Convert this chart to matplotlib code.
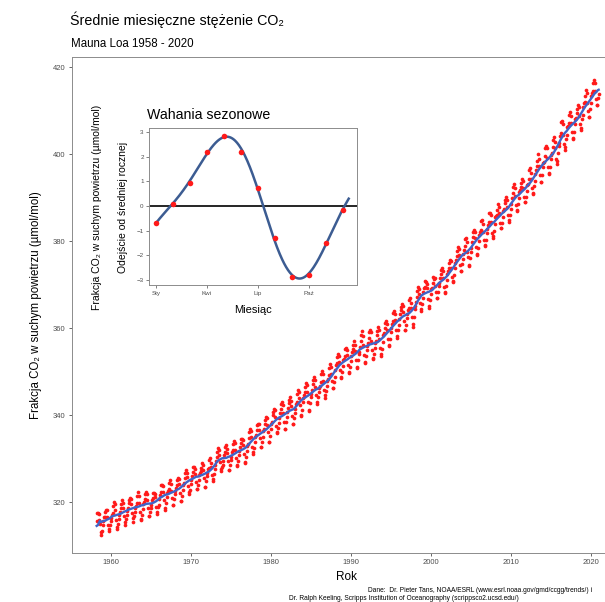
import numpy as np
import pandas as pd
import matplotlib
matplotlib.use("Agg")
import matplotlib.pyplot as plt

plt.rcParams['font.family'] = ['Liberation Sans', 'DejaVu Sans']

# ---------------- data ----------------
start_year = 1958
start_month = 3
# Monthly mean CO2 at Mauna Loa (ppm), Mar 1958 - Dec 2020
co2_ppm = [
    315.70, 317.45, 317.51, 317.24, 315.86, 314.93, 313.20, 312.43, 313.33, 314.67,
    315.58, 316.48, 316.65, 317.72, 318.29, 318.15, 316.54, 314.80, 313.84, 313.33, 314.81, 315.58,
    316.43, 316.98, 317.58, 319.03, 320.04, 319.59, 318.18, 315.90, 314.17, 313.83, 315.00, 316.19,
    316.93, 317.70, 318.54, 319.48, 320.58, 319.77, 318.57, 316.79, 314.80, 315.38, 316.10, 317.01,
    317.94, 318.55, 319.68, 320.57, 321.02, 320.62, 319.61, 317.40, 316.25, 315.42, 316.69, 317.70,
    318.74, 319.07, 319.86, 321.38, 322.25, 321.48, 319.74, 317.77, 316.21, 315.99, 317.07, 318.35,
    319.57, 320.01, 320.74, 321.84, 322.26, 321.89, 320.44, 318.69, 316.70, 316.87, 317.68, 318.71,
    319.44, 320.44, 320.89, 322.14, 322.17, 321.87, 321.21, 318.87, 317.81, 317.30, 318.87, 319.42,
    320.62, 321.59, 322.39, 323.87, 324.01, 323.75, 322.39, 320.37, 318.64, 318.10, 319.79, 321.08,
    322.07, 322.50, 323.04, 324.42, 325.00, 324.09, 322.54, 320.92, 319.25, 319.39, 320.73, 321.96,
    322.57, 323.15, 323.89, 325.02, 325.57, 325.36, 324.14, 322.11, 320.33, 320.25, 321.32, 322.89,
    324.00, 324.42, 325.63, 326.66, 327.38, 326.71, 325.88, 323.66, 322.38, 321.78, 322.85, 324.12,
    325.06, 325.98, 326.93, 328.13, 328.07, 327.66, 326.35, 324.69, 323.10, 323.07, 324.01, 325.13,
    326.17, 326.68, 327.17, 327.79, 328.93, 328.57, 327.36, 325.43, 323.36, 323.56, 324.80, 326.01,
    326.77, 327.63, 327.75, 329.72, 330.07, 329.09, 328.04, 326.32, 324.84, 325.20, 326.50, 327.55,
    328.55, 329.56, 330.30, 331.50, 332.48, 332.07, 330.87, 329.31, 327.51, 327.18, 328.16, 328.64,
    329.35, 330.71, 331.48, 332.65, 333.09, 332.25, 331.18, 329.40, 327.43, 327.37, 328.46, 329.57,
    330.40, 331.40, 332.04, 333.31, 333.96, 333.59, 331.91, 330.06, 328.56, 328.34, 329.49, 330.76,
    331.75, 332.56, 333.50, 334.58, 334.57, 334.34, 333.05, 330.94, 329.30, 328.94, 330.31, 331.68,
    332.93, 333.42, 334.70, 336.07, 336.75, 336.27, 334.92, 332.75, 331.59, 331.16, 332.40, 333.85,
    334.97, 335.38, 336.64, 337.76, 338.01, 337.89, 336.54, 334.68, 332.76, 332.55, 333.92, 334.95,
    336.23, 336.76, 337.96, 338.88, 339.47, 339.29, 337.73, 336.09, 333.92, 333.86, 335.29, 336.73,
    338.01, 338.36, 340.08, 340.77, 341.46, 341.17, 339.56, 337.60, 335.88, 336.02, 337.10, 338.21,
    339.24, 340.48, 341.38, 342.51, 342.91, 342.25, 340.49, 338.43, 336.69, 336.85, 338.36, 339.61,
    340.75, 341.61, 342.70, 343.56, 344.13, 343.35, 342.06, 339.82, 337.97, 337.86, 339.26, 340.49,
    341.38, 342.52, 343.10, 344.94, 345.75, 345.32, 343.99, 342.39, 339.86, 339.99, 341.16, 342.99,
    343.82, 344.63, 345.38, 346.40, 347.42, 346.89, 345.22, 343.11, 340.90, 341.18, 342.80, 344.04,
    344.79, 345.82, 347.25, 348.17, 348.75, 348.07, 346.38, 344.52, 342.92, 342.63, 344.06, 345.38,
    346.11, 346.78, 347.68, 349.37, 350.03, 349.37, 347.76, 345.73, 344.68, 343.99, 345.48, 346.72,
    347.84, 348.29, 349.23, 350.80, 351.66, 351.07, 349.33, 347.92, 346.27, 346.18, 347.64, 348.78,
    350.25, 351.54, 352.05, 353.41, 354.04, 353.62, 352.22, 350.27, 348.55, 348.72, 349.91, 351.18,
    352.60, 352.92, 353.53, 355.26, 355.52, 354.97, 353.75, 351.52, 349.64, 349.83, 351.14, 352.37,
    353.50, 354.55, 355.23, 356.04, 357.00, 356.07, 354.67, 352.76, 350.82, 351.04, 352.69, 354.07,
    354.59, 355.63, 357.03, 358.48, 359.22, 358.12, 356.06, 353.92, 352.05, 352.11, 353.64, 354.89,
    355.88, 356.63, 357.72, 359.07, 359.58, 359.17, 356.94, 354.92, 352.94, 353.23, 354.09, 355.33,
    356.63, 357.10, 358.32, 359.41, 360.23, 359.55, 357.53, 355.48, 353.67, 353.95, 355.30, 356.78,
    358.34, 358.89, 359.95, 361.25, 361.67, 360.94, 359.55, 357.49, 355.84, 356.00, 357.59, 359.05,
    359.98, 361.03, 361.66, 363.48, 363.82, 363.30, 361.94, 359.50, 358.11, 357.80, 359.61, 360.74,
    362.09, 363.29, 364.06, 364.76, 365.45, 365.01, 363.70, 361.54, 359.51, 359.65, 360.80, 362.38,
    363.23, 364.06, 364.61, 366.40, 366.84, 365.68, 364.52, 362.57, 360.24, 360.83, 362.49, 364.34,
    365.16, 365.98, 367.13, 368.61, 369.46, 368.95, 367.74, 365.79, 364.01, 364.35, 365.52, 366.93,
    368.21, 369.13, 369.46, 370.77, 370.66, 370.10, 369.10, 366.70, 364.61, 365.17, 366.51, 367.85,
    369.07, 369.32, 370.38, 371.63, 371.32, 371.53, 369.75, 368.23, 366.87, 366.94, 368.27, 369.64,
    370.46, 371.44, 372.37, 373.33, 373.77, 373.09, 371.51, 369.55, 368.12, 368.38, 369.66, 371.11,
    372.36, 373.09, 373.81, 374.93, 375.58, 375.44, 373.86, 371.77, 370.73, 370.50, 372.18, 373.70,
    374.92, 375.62, 376.51, 377.75, 378.54, 378.20, 376.68, 374.43, 373.11, 373.10, 374.77, 375.97,
    377.03, 377.87, 378.88, 380.42, 380.62, 379.70, 377.43, 376.32, 374.19, 374.47, 376.15, 377.51,
    378.43, 379.70, 380.92, 382.18, 382.45, 382.14, 380.60, 378.60, 376.72, 376.98, 378.29, 380.07,
    381.36, 382.19, 382.65, 384.65, 384.94, 384.01, 382.15, 380.33, 378.81, 379.06, 380.17, 381.85,
    382.88, 383.77, 384.42, 386.36, 386.53, 386.01, 384.45, 381.96, 380.81, 381.09, 382.37, 383.84,
    385.42, 385.72, 385.96, 387.18, 388.50, 387.88, 386.38, 384.15, 383.07, 382.98, 384.11, 385.54,
    386.92, 387.41, 388.77, 389.46, 390.18, 389.43, 387.74, 385.91, 384.77, 384.38, 385.99, 387.26,
    388.45, 389.82, 391.08, 392.46, 393.06, 392.08, 390.32, 388.26, 386.85, 387.17, 388.43, 389.99,
    391.18, 391.83, 392.49, 393.37, 394.28, 393.72, 392.28, 390.08, 389.02, 388.96, 390.22, 391.51,
    392.92, 393.20, 394.19, 396.29, 396.87, 395.60, 394.34, 392.10, 390.77, 391.06, 392.56, 393.88,
    395.47, 396.44, 397.28, 398.31, 400.00, 398.78, 397.31, 395.22, 393.50, 393.66, 395.16, 396.93,
    397.95, 398.26, 399.62, 401.45, 401.88, 401.31, 399.10, 397.04, 395.42, 395.72, 397.08, 398.77,
    399.85, 400.26, 401.56, 403.30, 403.81, 402.84, 401.34, 398.93, 397.63, 398.29, 400.16, 401.85,
    402.51, 404.04, 404.83, 407.42, 407.70, 406.81, 404.39, 402.25, 401.03, 401.57, 403.53, 404.42,
    406.13, 406.42, 407.18, 409.00, 409.65, 408.84, 407.07, 405.07, 403.38, 403.64, 405.14, 406.81,
    407.96, 408.32, 409.41, 410.24, 411.24, 410.79, 408.71, 406.99, 405.51, 406.00, 408.02, 409.07,
    410.83, 411.75, 411.97, 413.32, 414.66, 413.92, 411.77, 409.95, 408.54, 408.53, 410.27, 411.76,
    413.40, 414.11, 414.51, 416.21, 417.07, 416.39, 414.38, 412.55, 411.29, 411.28, 412.89, 413.89,
]

# Seasonal cycle (deviation from annual mean), months 1..12
season_months = list(range(1, 13))
season_offset = [-0.68, 0.08, 0.95, 2.20, 2.83, 2.20, 0.72, -1.30, -2.86, -2.80, -1.48, -0.16]
season_tick_pos = [1, 4, 7, 10]
season_tick_labels = ['Sty', 'Kwi', 'Lip', 'Paź']

x_ticks = [1960, 1970, 1980, 1990, 2000, 2010, 2020]
y_ticks = [320, 340, 360, 380, 400, 420]
inset_y_ticks = [-3, -2, -1, 0, 1, 2, 3]

# ---------------- derived series ----------------
n = len(co2_ppm)
month_index = np.arange(n) + (start_month - 1)
years = start_year + month_index // 12
months = month_index % 12 + 1
dec_date = years + (months - 0.5) / 12.0
s = pd.Series(co2_ppm, dtype=float)
w = np.r_[0.5, np.ones(11), 0.5] / 12.0
trend = s.rolling(13, center=True).apply(lambda v: np.dot(v, w), raw=True)
detr = s - trend
seas = detr.groupby(months).mean()
seas = seas - seas.mean()
deseason = pd.Series(s.values - seas.loc[months].values)
deseason_smooth = deseason.rolling(5, center=True, min_periods=1).mean()
trend_line = trend.fillna(deseason_smooth).values

# ---------------- figure ----------------
W, H = 605, 602
fig = plt.figure(figsize=(W / 100, H / 100), dpi=100)
fig.patch.set_facecolor('white')

def fx(px):
    return px / W

def fy(py):
    return 1 - py / H

gray_txt = '#4d4d4d'
border = '#8c8c8c'

# main panel (extends past right edge like the cropped original)
L, R, T, B = 72, 621, 57, 553
ax = fig.add_axes([fx(L), fy(B), (R - L) / W, (B - T) / H])
ax.scatter(dec_date, co2_ppm, s=7, color='#ff1a1a', linewidths=0, zorder=2)
ax.plot(dec_date, trend_line, color='#4064c8', lw=1.7, zorder=3)
ax.set_xlim(1955.125, 2023.75)
ax.set_ylim(308.3, 422.3)
ax.set_xticks(x_ticks)
ax.set_yticks(y_ticks)
ax.tick_params(labelsize=5.5, colors=gray_txt, length=2.5, width=0.6, pad=2)
for sp in ax.spines.values():
    sp.set_color(border)
    sp.set_linewidth(0.7)

fig.text(fx(70), fy(20), 'Średnie miesięczne stężenie CO₂', fontsize=10.3, va='center', ha='left')
fig.text(fx(71), fy(44), 'Mauna Loa 1958 - 2020', fontsize=8.3, va='center', ha='left')
fig.text(fx(36), fy(305), 'Frakcja CO₂ w suchym powietrzu (µmol/mol)', fontsize=8.3,
         rotation=90, va='center', ha='center')
fig.text(fx(346.5), fy(577), 'Rok', fontsize=8.5, va='center', ha='center')
fig.text(fx(368), fy(590),
         'Dane:  Dr. Pieter Tans, NOAA/ESRL (www.esrl.noaa.gov/gmd/ccgg/trends/) i',
         fontsize=4.8, va='center', ha='left')
fig.text(fx(289), fy(599),
         'Dr. Ralph Keeling, Scripps Institution of Oceanography (scrippsco2.ucsd.edu/)',
         fontsize=4.8, va='center', ha='left')

# inset
iL, iR, iT, iB = 149.3, 356.7, 128, 285
ax2 = fig.add_axes([fx(iL), fy(iB), (iR - iL) / W, (iB - iT) / H])
ax2.set_facecolor('white')
m = np.array(season_months, dtype=float)
v = np.array(season_offset)
K = 2
def design(x):
    cols = [np.ones_like(x), x]
    for k in range(1, K + 1):
        cols.append(np.cos(2 * np.pi * k * x / 12))
        cols.append(np.sin(2 * np.pi * k * x / 12))
    return np.column_stack(cols)
coef, *_ = np.linalg.lstsq(design(m), v, rcond=None)
xx = np.linspace(1, 12.35, 300)
ax2.axhline(0, color='black', lw=1.2, zorder=2)
ax2.plot(xx, design(xx) @ coef, color='#3c5c92', lw=1.8, zorder=3)
ax2.scatter(m, v, s=16, color='#ff1a1a', linewidths=0, zorder=4)
ax2.set_xlim(0.62, 12.82)
ax2.set_ylim(-3.2, 3.16)
ax2.set_xticks(season_tick_pos)
ax2.set_xticklabels(season_tick_labels)
ax2.set_yticks(inset_y_ticks)
ax2.tick_params(labelsize=4.5, colors=gray_txt, length=2, width=0.5, pad=2)
for sp in ax2.spines.values():
    sp.set_color(border)
    sp.set_linewidth(0.7)

fig.text(fx(147), fy(115), 'Wahania sezonowe', fontsize=10.2, va='center', ha='left')
fig.text(fx(253), fy(310), 'Miesiąc', fontsize=8, va='center', ha='center')
fig.text(fx(97), fy(207), 'Frakcja CO₂ w suchym powietrzu (µmol/mol)', fontsize=7.5,
         rotation=90, va='center', ha='center')
fig.text(fx(123), fy(207), 'Odejście od średniej rocznej', fontsize=7.5,
         rotation=90, va='center', ha='center')

fig.savefig('out.png', dpi=100)
